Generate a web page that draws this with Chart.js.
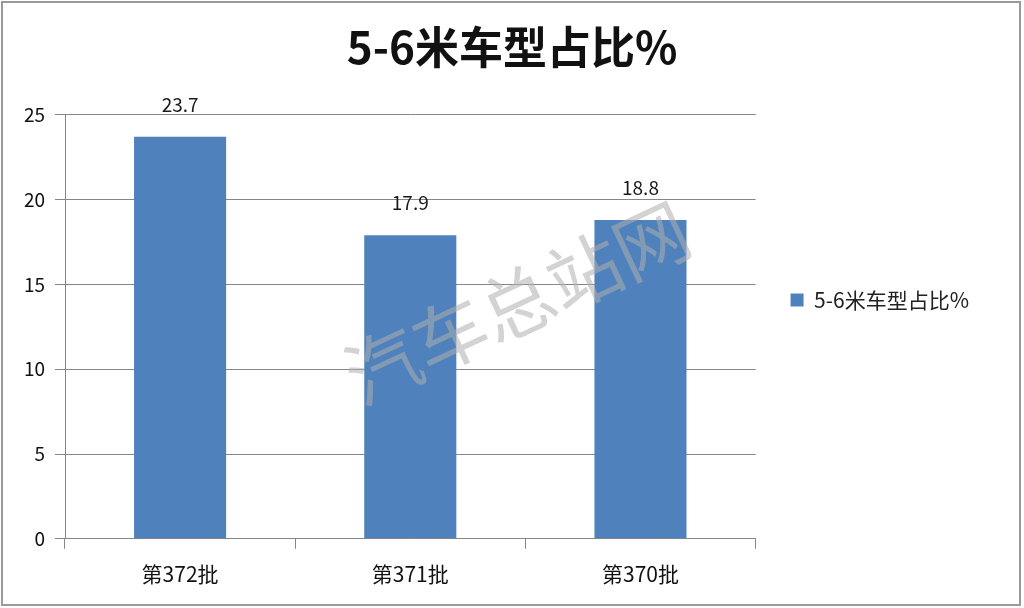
<!DOCTYPE html>
<html>
<head>
<meta charset="utf-8">
<script src="https://cdn.jsdelivr.net/npm/chart.js@4.4.1/dist/chart.umd.min.js"></script>
<style>
  html, body { margin: 0; padding: 0; background: #fff; }
  #wrap { width: 1024px; height: 608px; }
</style>
</head>
<body>
<div id="wrap"><canvas id="myChart" width="1024" height="608"></canvas></div>
<script>
var categories = ['第372批', '第371批', '第370批'];
var shares = [23.7, 17.9, 18.8];
var yTicks = [0, 5, 10, 15, 20, 25];
var seriesName = '5-6米车型占比%';
var chartTitle = '5-6米车型占比%';
var watermark = '汽车总站网';

var font = '"Noto Sans CJK SC", "Noto Sans", sans-serif';

// cadre gris autour de l'image + filigrane
var framePlugin = {
  id: 'frame',
  afterLayout: function(chart) {
    // titre centré sur toute la largeur de l'image
    if (chart.titleBlock) {
      chart.titleBlock.left = 0;
      chart.titleBlock.right = chart.width;
    }
  },
  beforeDraw: function(chart) {
    var ctx = chart.ctx;
    ctx.save();
    ctx.fillStyle = '#fff';
    ctx.fillRect(0, 0, chart.width, chart.height);
    ctx.strokeStyle = '#9a9a9a';
    ctx.lineWidth = 2;
    ctx.strokeRect(2, 2, 1018, 603);
    ctx.restore();
  },
  afterDraw: function(chart) {
    var ctx = chart.ctx;
    ctx.save();
    ctx.translate(517, 303);
    ctx.rotate(-25 * Math.PI / 180);
    ctx.font = '74px ' + font;
    ctx.fillStyle = 'rgba(175,175,175,0.55)';
    ctx.textAlign = 'center';
    ctx.textBaseline = 'middle';
    ctx.fillText(watermark, 0, 0);
    ctx.restore();
  }
};

// étiquettes de valeur au-dessus des barres
var labelPlugin = {
  id: 'valueLabels',
  afterDatasetsDraw: function(chart) {
    var ctx = chart.ctx;
    var meta = chart.getDatasetMeta(0);
    ctx.save();
    ctx.font = '19px ' + font;
    ctx.fillStyle = '#1a1a1a';
    ctx.textAlign = 'center';
    ctx.textBaseline = 'middle';
    meta.data.forEach(function(bar, i) {
      ctx.fillText(shares[i].toFixed(1), bar.x, bar.y - 32);
    });
    ctx.restore();
  }
};

var ctx = document.getElementById('myChart').getContext('2d');
var myChart = new Chart(ctx, {
  type: 'bar',
  data: {
    labels: categories,
    datasets: [{
      label: seriesName,
      data: shares,
      backgroundColor: '#4f81bd',
      borderWidth: 0,
      barPercentage: 0.4,
      categoryPercentage: 1
    }]
  },
  options: {
    responsive: false,
    animation: false,
    layout: { padding: { left: 0, right: 45, top: 0, bottom: 8 } },
    plugins: {
      title: {
        display: true,
        text: chartTitle,
        color: '#111',
        font: { family: font, size: 44, weight: 'bold' },
        padding: { top: 21, bottom: 41 }
      },
      legend: {
        position: 'right',
        labels: {
          color: '#222',
          font: { family: font, size: 21 },
          boxWidth: 13,
          boxHeight: 13,
          padding: 35
        }
      },
      tooltip: { enabled: false }
    },
    scales: {
      x: {
        offset: true,
        grid: {
          offset: true,
          drawOnChartArea: false,
          drawTicks: true,
          tickLength: 10,
          color: '#868686'
        },
        border: { color: '#868686', width: 1 },
        ticks: {
          color: '#111',
          font: { family: font, size: 21 },
          padding: 13
        }
      },
      y: {
        min: 0,
        max: 25,
        afterFit: function(scale) { scale.width = 65; },
        afterBuildTicks: function(scale) {
          scale.ticks = yTicks.map(function(v) { return { value: v }; });
        },
        grid: {
          color: '#868686',
          tickLength: 10,
          drawTicks: true
        },
        border: { color: '#868686', width: 1 },
        ticks: {
          color: '#111',
          font: { family: font, size: 19 },
          padding: 10
        }
      }
    }
  },
  plugins: [framePlugin, labelPlugin]
});
</script>
</body>
</html>
